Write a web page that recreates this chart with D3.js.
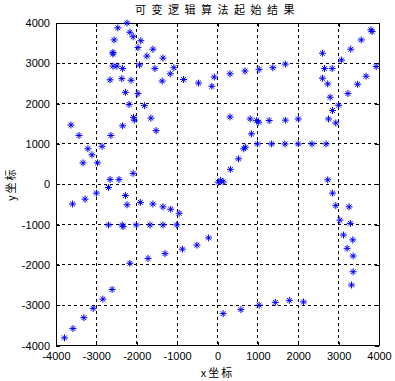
<!DOCTYPE html>
<html><head><meta charset="utf-8">
<script src="https://cdn.jsdelivr.net/npm/d3@7"></script>
<style>body{margin:0;background:#fff}svg{display:block}</style>
</head><body>
<svg id="c" width="395" height="381"></svg>
<script>
const title = "可变逻辑算法起始结果";
const xLabel = "x坐标";
const yLabel = "y坐标";
const xTicks = [-4000,-3000,-2000,-1000,0,1000,2000,3000,4000];
const yTicks = [-4000,-3000,-2000,-1000,0,1000,2000,3000,4000];
const xs = [
-3630,-3430,-3210,-3110,-3330,-2970,-2860,-2640,-2350,-2660,-2440,-2090,
-2660,-2590,-2490,-2590,-2590,-2560,-2470,-2240,-2170,-2090,-2350,-2370,-2140,-2280,-2190,-2080,-2060,-1970,-1970,-1900,-1930,-1810,-1750,-1650,-1600,-1550,-1520,-1350,-1370,-1170,-1080,-840,-470,
-140,-80,310,680,1030,1370,1680,2600,2650,2840,2600,2730,2790,2850,3000,2750,2930,3070,3300,3560,3800,3830,3930,3680,3470,3230,
310,810,970,1020,1280,1680,2000,840,690,650,990,1340,1670,2000,2340,2690,520,320,80,20,140,2730,
-3590,-3280,-3000,-2700,-2280,-2240,-1910,-1600,-1350,-1160,-950,-2700,-2360,-2340,-2010,-1670,-1350,-1010,-870,-510,-220,-1300,-1720,-2170,-2610,-2840,-3080,-3310,-3580,-3790,
2850,2930,3260,3030,3290,3120,3350,3210,3360,3360,3320,140,580,1030,1430,1780,2130
];
const ys = [
1470,1210,880,730,530,530,940,1210,1450,120,120,270,
2590,2930,2930,3270,3230,3580,3880,4000,3770,3660,2870,2620,2580,2280,1980,1660,1590,2250,3390,3560,2960,1950,3180,1640,3350,2870,1330,3130,2560,2740,2890,2600,2510,
2430,2660,2740,2810,2850,2890,2980,3250,2870,2870,2630,2490,2160,1830,1960,1620,1520,3080,3350,3580,3830,3790,2920,2680,2480,2250,
1670,1620,1580,1540,1580,1590,1620,1250,920,880,1000,1000,1000,1000,1000,1000,630,370,100,50,60,110,
-490,-370,-220,-80,-280,-510,-450,-490,-560,-620,-720,-1010,-1010,-1050,-1010,-1010,-1010,-1010,-1610,-1510,-1330,-1720,-1840,-1960,-2610,-2850,-3080,-3310,-3580,-3810,
-220,-530,-560,-890,-970,-1260,-1380,-1590,-1780,-2170,-2500,-3210,-3110,-3000,-2930,-2880,-2920
];

const L=56, R=379, T=23, B=345.5;
const svg = d3.select("#c");
const x = d3.scaleLinear().domain([-4000,4000]).range([L,R]);
const y = d3.scaleLinear().domain([-4000,4000]).range([B,T]);
const font = "'Liberation Sans', Arial, sans-serif";
const fmt = v => String(v);

// grid
const g = svg.append("g");
xTicks.slice(1,-1).forEach(v=>{
  g.append("line").attr("x1",x(v)).attr("x2",x(v)).attr("y1",T).attr("y2",B)
   .attr("stroke","#000").attr("stroke-width",1).attr("stroke-dasharray","3,3").attr("shape-rendering","crispEdges");
});
yTicks.slice(1,-1).forEach(v=>{
  g.append("line").attr("y1",y(v)).attr("y2",y(v)).attr("x1",L).attr("x2",R)
   .attr("stroke","#000").attr("stroke-width",1).attr("stroke-dasharray","3,3").attr("shape-rendering","crispEdges");
});

// axes (ticks inward, mirrored)
const axB = svg.append("g").attr("transform",`translate(0,${B})`).call(d3.axisBottom(x).tickValues(xTicks).tickFormat(fmt).tickSizeInner(-4).tickSizeOuter(0).tickPadding(7));
const axT = svg.append("g").attr("transform",`translate(0,${T})`).call(d3.axisTop(x).tickValues(xTicks).tickSizeInner(-4).tickSizeOuter(0).tickFormat(""));
const axL = svg.append("g").attr("transform",`translate(${L},0)`).call(d3.axisLeft(y).tickValues(yTicks).tickFormat(fmt).tickSizeInner(-4).tickSizeOuter(0).tickPadding(6));
const axR = svg.append("g").attr("transform",`translate(${R},0)`).call(d3.axisRight(y).tickValues(yTicks).tickSizeInner(-4).tickSizeOuter(0).tickFormat(""));
[axB,axT,axL,axR].forEach(a=>{
  a.selectAll(".domain").remove();
  a.selectAll("line").attr("stroke","#000").attr("shape-rendering","crispEdges");
  a.selectAll("text").attr("font-family",font).attr("font-size","11px").attr("fill","#000");
});
svg.append("rect").attr("x",L).attr("y",T).attr("width",R-L).attr("height",B-T)
  .attr("fill","none").attr("stroke","#000").attr("stroke-width",1).attr("shape-rendering","crispEdges");

// markers '*'
const r=3.5, d=2.4;
const star = `M${-r},0L${r},0M0,${-r}L0,${r}M${-d},${-d}L${d},${d}M${-d},${d}L${d},${-d}`;
svg.append("g").selectAll("path").data(xs.map((v,i)=>[v,ys[i]])).join("path")
  .attr("d",star).attr("transform",p=>`translate(${x(p[0])},${y(p[1])})`)
  .attr("stroke","#0000ff").attr("stroke-width",1).attr("fill","none");

// labels
svg.append("text").attr("x",(L+R)/2).attr("y",14).attr("text-anchor","middle")
  .attr("font-family","'Noto Sans CJK SC', sans-serif").attr("font-size","11px").attr("letter-spacing","5.5px").text(title);
svg.append("text").attr("x",(L+R)/2).attr("y",377).attr("text-anchor","middle")
  .attr("font-family","'Noto Sans CJK SC', sans-serif").attr("font-size","11px").attr("letter-spacing","2px").text(xLabel);
svg.append("text").attr("transform",`translate(15,${(T+B)/2}) rotate(-90)`).attr("text-anchor","middle")
  .attr("font-family","'Noto Sans CJK SC', sans-serif").attr("font-size","11px").attr("letter-spacing","2px").text(yLabel);
</script>
</body></html>
